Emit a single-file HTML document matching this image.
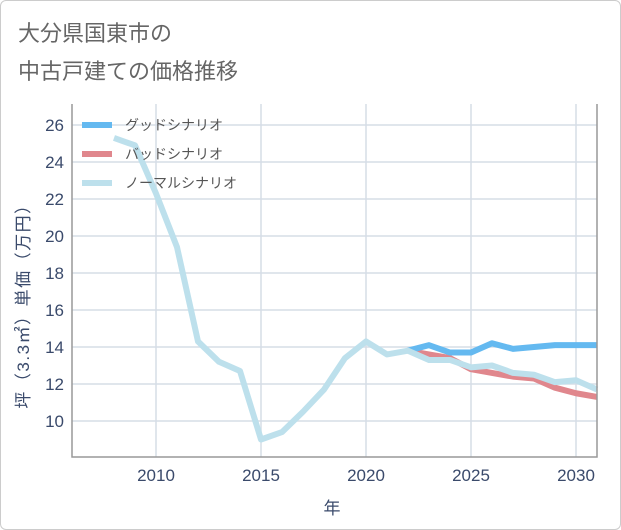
<!DOCTYPE html>
<html><head><meta charset="utf-8"><style>
body{margin:0;background:#fff;}
#card{position:absolute;left:0;top:0;width:619px;height:528px;border:1px solid #ccc;border-radius:6px;background:#fff;}
svg text{font-family:"Liberation Sans","Noto Sans CJK JP",sans-serif;}
</style></head><body>
<div id="card"></div>
<svg id="chart" width="621" height="530" style="position:absolute;left:0;top:0">
<text x="18" y="41" font-size="22" fill="#666">大分県国東市の</text>
<text x="18" y="79" font-size="22" fill="#666">中古戸建ての価格推移</text>
<g id="grid"></g><g id="series"></g><g id="axes"></g>
<text x="332" y="514" font-size="17" fill="#3a4a6b" text-anchor="middle">年</text>
<text transform="translate(29,302) rotate(-90)" font-size="17" letter-spacing="1.5" fill="#3a4a6b" text-anchor="middle">坪（3.3㎡）単価（万円）</text>
</svg>
<script>
const years=[2008,2009,2010,2011,2012,2013,2014,2015,2016,2017,2018,2019,2020,2021,2022,2023,2024,2025,2026,2027,2028,2029,2030,2031];
const normal=[25.3,24.9,22.3,19.4,14.3,13.2,12.7,9.0,9.4,10.5,11.7,13.4,14.3,13.6,13.8,13.3,13.3,12.9,13.0,12.6,12.5,12.1,12.2,11.7];
const fYears=[2022,2023,2024,2025,2026,2027,2028,2029,2030,2031];
const good=[13.8,14.1,13.7,13.7,14.2,13.9,14.0,14.1,14.1,14.1];
const bad=[13.8,13.6,13.4,12.8,12.6,12.4,12.3,11.8,11.5,11.3];
const xTicks=[2010,2015,2020,2025,2030];
const yTicks=[10,12,14,16,18,20,22,24,26];
const L=72,R=597,T=104,B=457;
const x=v=>156+(v-2010)*21;
const y=v=>421-(v-10)*18.5;
const NS="http://www.w3.org/2000/svg";
function mk(p,t,a){const e=document.createElementNS(NS,t);for(const k in a)e.setAttribute(k,a[k]);p.appendChild(e);return e;}
const g=document.getElementById('grid'),s=document.getElementById('series'),ax=document.getElementById('axes');
yTicks.forEach(v=>{const l=mk(g,'line',{x1:L,x2:R,y1:y(v),y2:y(v),stroke:'#d5dde6','stroke-width':1.5});

const t=mk(ax,'text',{x:L-8,y:y(v)+6,'font-size':17,fill:'#3a4a6b','text-anchor':'end'});t.textContent=v;
});
xTicks.forEach(v=>{const l=mk(g,'line',{x1:x(v),x2:x(v),y1:T,y2:B,stroke:'#d5dde6','stroke-width':1.5});

const t=mk(ax,'text',{x:x(v),y:B+24,'font-size':17,fill:'#3a4a6b','text-anchor':'middle'});t.textContent=v;
});
const fr=mk(ax,'path',{d:`M${L},${T}V${B}H${R}V${T}`,fill:'none',stroke:'#999','stroke-width':1.5});

function line(xs,vs,c,n){const p=mk(s,'polyline',{points:xs.map((a,i)=>x(a)+','+y(vs[i])).join(' '),fill:'none',stroke:c,'stroke-width':6,'stroke-linejoin':'round'});
}
line(fYears,bad,'#e0878d','bad-scenario-line');
line(fYears,good,'#64b9f0','good-scenario-line');
line(years,normal,'#bde0ec','normal-scenario-line');
[['グッドシナリオ','#64b9f0',125],['バッドシナリオ','#e0878d',154],['ノーマルシナリオ','#bde0ec',183]].forEach(d=>{
const r=mk(s,'rect',{x:82,y:d[2]-3,width:30,height:6,fill:d[1]});
const t=mk(s,'text',{x:125,y:d[2]+5,'font-size':14,fill:'#555'});t.textContent=d[0];
});
</script>
</body></html>
